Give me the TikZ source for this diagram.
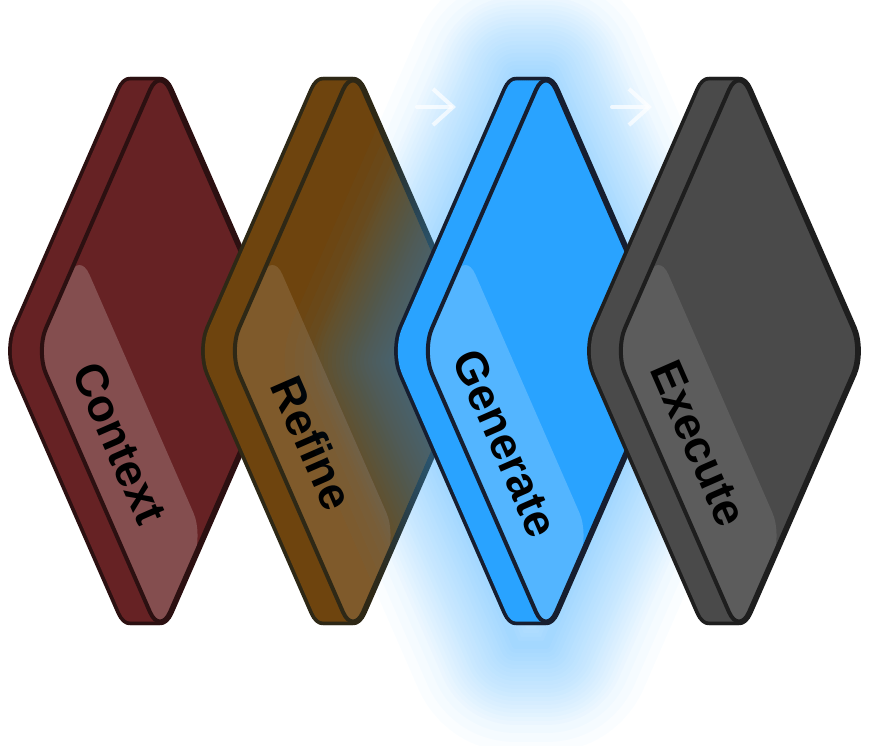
\documentclass[tikz,border=0pt]{standalone}
\usepackage{fontspec}
\setmainfont{Liberation Sans}
\usepackage{tikz}
\usetikzlibrary{arrows.meta, calc, positioning}
\definecolor{contextfill}{RGB}{102,34,36}
\definecolor{contextline}{RGB}{44,16,17}
\definecolor{refinefill}{RGB}{110,68,14}
\definecolor{refineline}{RGB}{46,40,22}
\definecolor{generatefill}{RGB}{41,163,255}
\definecolor{generateline}{RGB}{22,30,48}
\definecolor{executefill}{RGB}{74,74,74}
\definecolor{executeline}{RGB}{30,30,30}
\definecolor{glowblue}{RGB}{41,163,255}
\tikzstyle{cardface} = [line width=0.04cm, line join=round, rounded corners=0.25cm]
\tikzstyle{cardedge} = [line width=0.075cm, line join=round, rounded corners=0.25cm]
\tikzstyle{cardstrip} = [fill=white, rounded corners=0.25cm]
\tikzstyle{cardtext} = [font=\bfseries\fontsize{13}{15}\selectfont, text=black, rotate=-66.4, inner sep=0pt]
\tikzstyle{glowring} = [draw=glowblue, line join=round, opacity=0.025]
\tikzstyle{flowarrow} = [draw=white, opacity=0.7, line width=0.04cm, line cap=round, line join=round, -{Straight Barb[length=0.2cm, width=0.36cm]}]
% one slab: #1 centre x, #2 colour prefix, #3 strip opacity, #4 node name, #5 text
\newcommand{\slabcard}[5]{%
	\begin{scope}[shift={(#1,351)}]
		\foreach \s in {30,28,...,0}
			\draw[cardedge, draw=#2line, shift={(-\s,0)}] (0,-284) -- (124,0) -- (0,284) -- (-124,0) -- cycle;
		\foreach \s in {30,28,...,0}
			\fill[cardface, fill=#2fill, shift={(-\s,0)}] (0,-284) -- (124,0) -- (0,284) -- (-124,0) -- cycle;
		\fill[cardstrip, fill opacity=#3] (-124,0) -- (-80.6,-99.4) -- (43.4,184.6) -- (0,284) -- cycle;
		\draw[cardface, draw=#2line] (0,-284) -- (124,0) -- (0,284) -- (-124,0) -- cycle;
		\node[cardtext] (#4) at (-40.3,92.3) {#5};
	\end{scope}}

\begin{document}
\begin{tikzpicture}[x=0.01cm, y=-0.01cm]
	\useasboundingbox (0,0) rectangle (869,746);
	\slabcard{160}{context}{0.2}{Context}{Context}
	\slabcard{353}{refine}{0.12}{Refine}{Refine}
	% glow behind the active slab
	\begin{scope}[shift={(546,361)}]
		\foreach \w in {8,16,...,160,176,194,214}
			\draw[glowring, line width=\w*0.01cm] (-30,-284) -- (0,-284) -- (124,0) -- (0,284) -- (-30,284) -- (-154,0) -- cycle;
	\end{scope}
	\slabcard{546}{generate}{0.2}{Generate}{Generate}
	\slabcard{739}{execute}{0.1}{Execute}{Execute}
	\coordinate (ContextOut) at (224,107);
	\coordinate (RefineIn) at (263,107);
	\coordinate (RefineOut) at (417,107);
	\coordinate (GenerateIn) at (456,107);
	\coordinate (GenerateOut) at (612,107);
	\coordinate (ExecuteIn) at (652,107);
	\draw[flowarrow] (ContextOut) -- (RefineIn);
	\draw[flowarrow] (RefineOut) -- (GenerateIn);
	\draw[flowarrow] (GenerateOut) -- (ExecuteIn);
\end{tikzpicture}
\end{document}
